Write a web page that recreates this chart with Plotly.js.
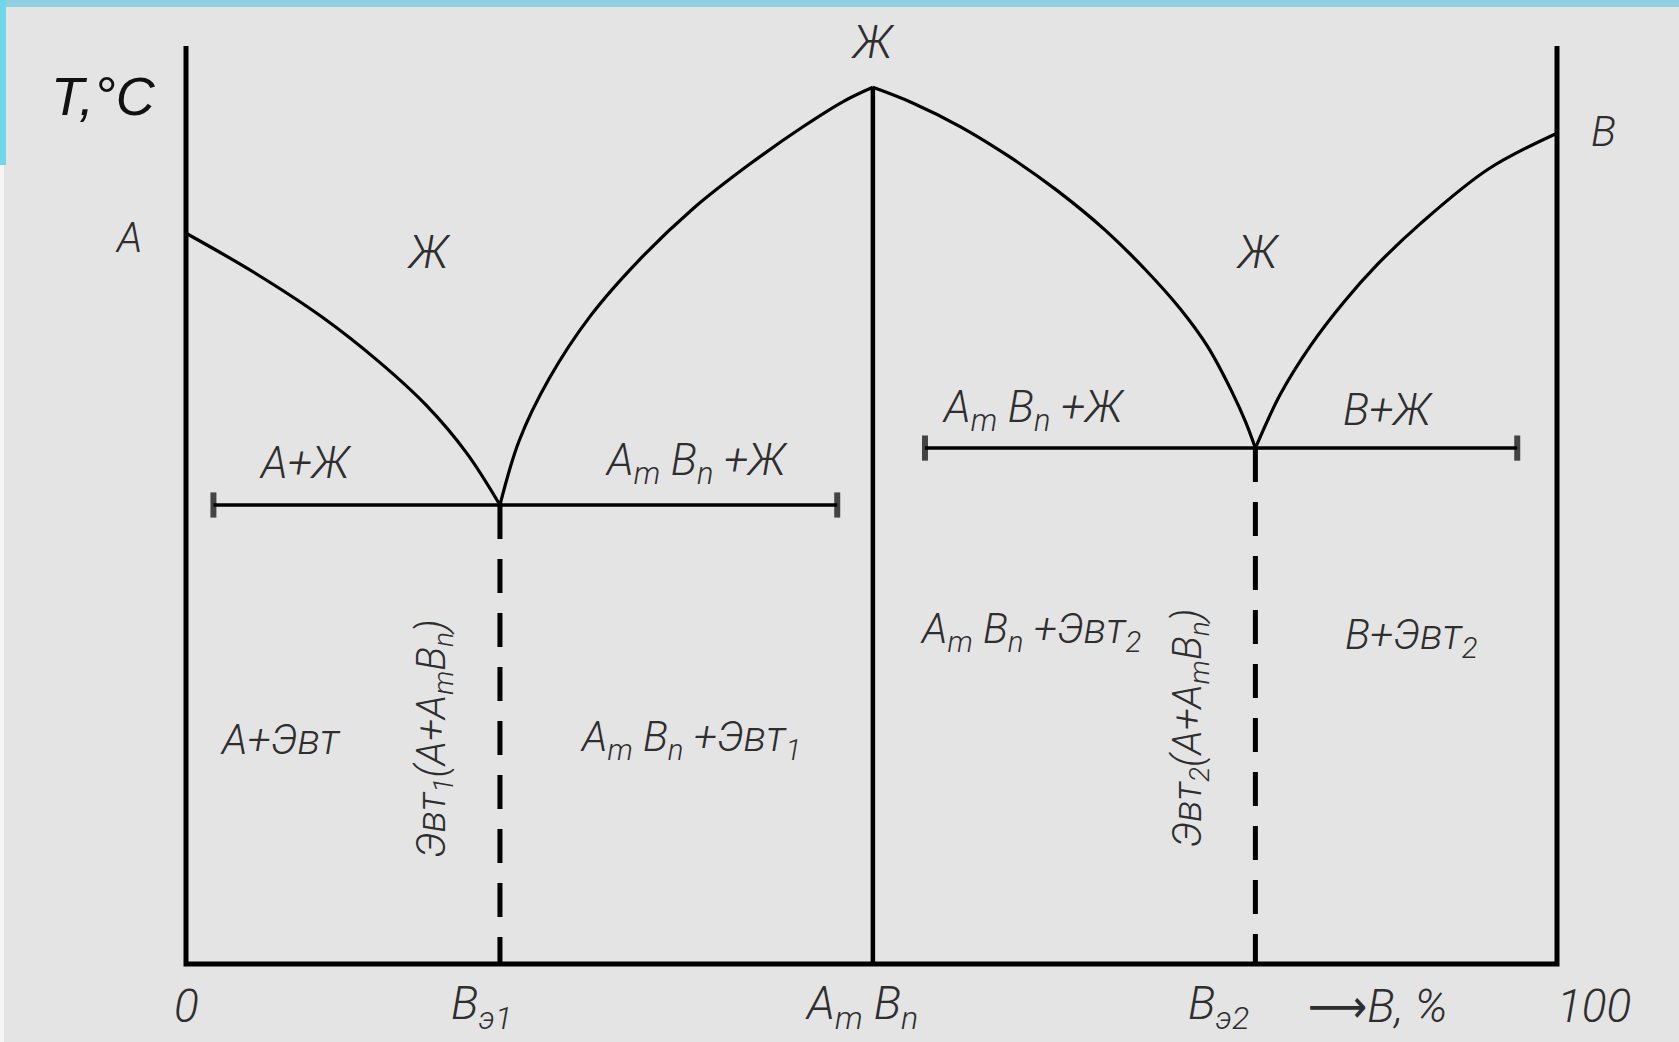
<!DOCTYPE html>
<html>
<head>
<meta charset="utf-8">
<script src="https://cdn.plot.ly/plotly-3.0.1.min.js"></script>
<style>html,body{margin:0;padding:0;background:#e4e4e4;}#chart{width:1679px;height:1042px;}</style>
</head>
<body>
<div id="chart"></div>
<script>
// ---- data (composition x in % B, temperature T in relative units) ----
const liqA_x = [0, 5.0, 10.0, 14.0, 17.5, 20.5, 22.9];
const liqA_T = [79.6, 75.3, 70.4, 65.7, 60.9, 55.6, 50.0];

const liqC1_x = [22.9, 24.3, 26.5, 29.5, 33.0, 37.0, 41.0, 45.0, 48.0, 50.1];
const liqC1_T = [50.0, 57.0, 63.8, 70.6, 76.6, 82.3, 87.0, 91.2, 94.0, 95.5];

const liqC2_x = [50.1, 53.0, 56.5, 60.0, 63.5, 67.0, 70.0, 72.5, 74.5, 76.3, 77.3, 78.0];
const liqC2_T = [95.5, 93.8, 91.2, 88.0, 84.3, 80.0, 75.6, 71.4, 67.3, 62.3, 59.0, 56.2];

const liqB_x = [78.0, 79.8, 82.0, 84.4, 86.9, 90.0, 95.0, 100];
const liqB_T = [56.2, 62.0, 67.3, 72.0, 76.2, 80.6, 86.6, 90.5];

const eut1_x = [2.0, 22.9, 47.5];
const eut1_T = [50.0, 50.0, 50.0];
const eut2_x = [53.9, 78.0, 97.1];
const eut2_T = [56.2, 56.2, 56.2];

const compound_x = [50.1, 50.1];
const compound_T = [0, 95.5];
const e1drop_x = [22.9, 22.9];
const e1drop_T = [50.0, 0];
const e2drop_x = [78.0, 78.0];
const e2drop_T = [56.2, 0];

const frame_x = [0, 0, 100, 100];
const frame_T = [100, 0, 0, 100];

const tickText = ["0", "B<sub>э1</sub>", "A<sub>m</sub> B<sub>n</sub>", "B<sub>э2</sub>", "⟶B, %", "100"];
const tickX = [0, 22.9, 50.1, 78.0, 78.0, 100];

const regionText = [
  "A", "Ж", "Ж", "Ж", "B",
  "A+Ж", "A<sub>m</sub> B<sub>n</sub> +Ж", "A<sub>m</sub> B<sub>n</sub> +Ж", "B+Ж",
  "A+Эвт", "A<sub>m</sub> B<sub>n</sub> +Эвт<sub>1</sub>", "A<sub>m</sub> B<sub>n</sub> +Эвт<sub>2</sub>", "B+Эвт<sub>2</sub>"
];
const verticalText = [
  "Эвт<sub>1</sub>(A+A<sub>m</sub>B<sub>n</sub>)",
  "Эвт<sub>2</sub>(A+A<sub>m</sub>B<sub>n</sub>)"
];
const axisTitle = "T,°C";

// ---- drawing ----
const K = '#000000';
function line(x, y, w, extra) {
  return Object.assign({x: x, y: y, mode: 'lines', type: 'scatter', cliponaxis: false,
    hoverinfo: 'skip', showlegend: false, line: {color: K, width: w}}, extra || {});
}
const SPL = {color: K, width: 3.2, shape: 'spline', smoothing: 1.0};
const traces = [
  line(frame_x, frame_T, 5),
  line(liqA_x, liqA_T, 3.2, {line: SPL}),
  line(liqC1_x, liqC1_T, 3.2, {line: SPL}),
  line(liqC2_x, liqC2_T, 3.2, {line: SPL}),
  line(liqB_x, liqB_T, 3.2, {line: SPL}),
  line(compound_x, compound_T, 4.5),
  line(e1drop_x, e1drop_T, 5, {line: {color: K, width: 5, dash: '34px,20px'}}),
  line(e2drop_x, e2drop_T, 5, {line: {color: K, width: 5, dash: '34px,20px'}}),
  line(eut1_x, eut1_T, 3.5, {mode: 'lines+markers', marker: {symbol: 'line-ns-open', size: [18, 0, 18], color: K, line: {color: K, width: 6}}}),
  line(eut2_x, eut2_T, 3.5, {mode: 'lines+markers', marker: {symbol: 'line-ns-open', size: [18, 0, 18], color: K, line: {color: K, width: 6}}})
];

const FONT = 'Roboto, "DejaVu Sans Condensed", sans-serif';
const TXT = '#2e2e2e';
function ann(text, x, y, size, opts) {
  return Object.assign({text: text, x: x, y: y, xref: 'x', yref: 'y', showarrow: false,
    font: {family: FONT, size: size, color: TXT, style: 'italic', weight: 300}}, opts || {});
}
const regionPos = [
  [-4.2, 79.1, 42], [17.7, 77.6, 46], [50.1, 100.4, 46], [78.2, 77.6, 46], [103.4, 90.7, 42],
  [8.7, 54.6, 44], [37.2, 54.6, 44], [61.8, 60.3, 44], [87.7, 60.3, 44],
  [6.9, 24.5, 42], [36.8, 24.5, 42], [61.6, 36.2, 42], [89.4, 35.6, 42]
];
const annotations = [];
regionText.forEach((t, i) => annotations.push(ann(t, regionPos[i][0], regionPos[i][1], regionPos[i][2])));
annotations.push(ann(verticalText[0], 18.1, 24.5, 40, {textangle: -90}));
annotations.push(ann(verticalText[1], 73.2, 25.7, 40, {textangle: -90}));
annotations.push(ann(axisTitle, -6.0, 94.5, 54, {font: {family: '"Liberation Sans", sans-serif', size: 54, color: '#111', style: 'italic'}}));
const tickShift = [0, -18, -11, -37, 122, 37];
tickText.forEach((t, i) => annotations.push(ann(t, tickX[i], -4.6, 46, {xshift: tickShift[i]})));

// plot area fills the page; 0..100 data box sits at px 186..1557 (x) and 964..46 (y)
const pxX = 1371 / 100, pxY = 918 / 100;
const layout = {
  width: 1679, height: 1042,
  margin: {l: 0, r: 0, t: 0, b: 0, pad: 0},
  paper_bgcolor: '#e4e4e4', plot_bgcolor: '#e4e4e4',
  xaxis: {range: [-186 / pxX, (1679 - 186) / pxX], visible: false, fixedrange: true},
  yaxis: {range: [-(1042 - 964) / pxY, 964 / pxY], visible: false, fixedrange: true},
  showlegend: false,
  annotations: annotations,
  shapes: [
    {type: 'rect', xref: 'paper', yref: 'paper', x0: 0, x1: 1, y0: 1 - 7 / 1042, y1: 1,
     line: {width: 0}, fillcolor: '#8fd0e2', layer: 'below'},
    {type: 'rect', xref: 'paper', yref: 'paper', x0: 0, x1: 4 / 1679, y0: 0, y1: 1,
     line: {width: 0}, fillcolor: '#f4f4f4', layer: 'below'},
    {type: 'rect', xref: 'paper', yref: 'paper', x0: 0, x1: 6 / 1679, y0: 1 - 165 / 1042, y1: 1,
     line: {width: 0}, fillcolor: '#6fd8e8', layer: 'below'}
  ]
};
Plotly.newPlot('chart', traces, layout, {displayModeBar: false, staticPlot: true});
</script>
</body>
</html>
